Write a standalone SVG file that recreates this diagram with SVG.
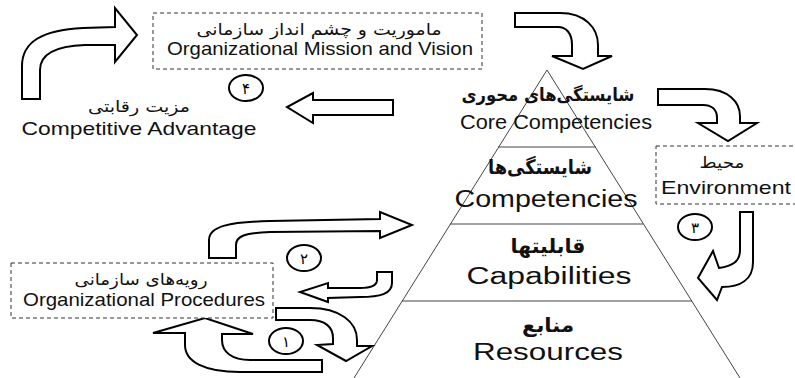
<svg xmlns="http://www.w3.org/2000/svg" width="795" height="378" viewBox="0 0 795 378">
<style>
.bg{fill:#fff}
.box{fill:#fff;stroke:#333;stroke-width:1;stroke-dasharray:4 3}
.arr{fill:#fff;stroke:#000;stroke-width:2;stroke-linejoin:miter}
.pyr{fill:none;stroke:#444;stroke-width:1}
.en{font-family:"Liberation Sans",Arial,sans-serif;fill:#111;text-anchor:middle}
.fa{font-family:"DejaVu Sans","Noto Sans",sans-serif;fill:#111;text-anchor:middle}
.fab{font-family:"DejaVu Sans","Noto Sans",sans-serif;fill:#111;text-anchor:middle;font-weight:bold}
.num{fill:#fff;stroke:#000;stroke-width:2}
.digit{font-family:"DejaVu Sans",sans-serif;font-size:15px;fill:#000;text-anchor:middle}
</style>
<rect class="bg" x="0" y="0" width="795" height="378"/>

<g id="pyramid">
<path class="pyr" d="M547,70 L354,378 M547,70 L740,378 M498,147 L596,147 M450,224 L643,224 M402,301 L692,301"/>
</g>

<g id="connectors">
<path class="arr" d="M22,99 L22,66 C22,42 42,30 83,28 L115,27 L115,8 L137,35 L115,62 L115,45 L85,45 C55,46 40,54 40,70 L40,99 Z"/>
<path class="arr" d="M393,100 L313,100 L313,93 L287,107 L313,123 L313,115 L393,115 Z"/>
<path class="arr" d="M515,13 L560,13 C585,13 598,28 598,45 L598,56 L612,56 L583,69 L552,56 L572,56 L572,45 C572,33 566,27 558,27 L515,27 Z"/>
<path class="arr" d="M658,89 L705,89 C728,89 740,102 740,116 L740,123 L757,123 L728,141 L698,123 L717,123 L717,118 C717,109 711,105 703,105 L658,105 Z"/>
<path class="arr" d="M740,212 L753,212 L753,262 C753,280 740,287 722,287 L717,300 L698,278 L713,251 L719,268 C732,266 740,262 740,250 Z"/>
<path class="arr" d="M209,258 L209,240 C209,226 230,222 270,221 L380,219 L380,212 L412,225 L380,238 L380,231 L270,232 C245,233 236,236 236,245 L236,258 Z"/>
<path class="arr" d="M377,272 L392,272 L392,283 C392,294 380,297 360,297 L328,298 L328,302 L300,292 L328,283 L328,288 L360,288 C372,288 377,285 377,280 Z"/>
<path class="arr" d="M276,308 L310,308 C340,308 357,322 357,340 L357,346 L372,346 L346,361 L317,345 L333,344 L333,338 C333,327 325,320 310,320 L276,320 Z"/>
<path class="arr" d="M322,360 L250,360 C232,360 222,352 222,340 L222,334 L253,334 L205,318 L153,333 L185,333 L185,345 C185,362 205,372 240,372 L322,372 Z"/>
</g>

<g id="mission">
<rect class="box" x="153" y="13" width="329" height="56"/>
<text class="fa" x="319" y="35" font-size="16" textLength="245" lengthAdjust="spacingAndGlyphs">ماموریت و چشم انداز سازمانی</text>
<text class="en" x="320" y="55" font-size="19" textLength="306" lengthAdjust="spacingAndGlyphs">Organizational Mission and Vision</text>
</g>

<g id="competitive-advantage">
<text class="fa" x="139" y="112" font-size="16" textLength="102" lengthAdjust="spacingAndGlyphs">مزیت رقابتی</text>
<text class="en" x="139" y="135" font-size="19" textLength="235" lengthAdjust="spacingAndGlyphs">Competitive Advantage</text>
</g>

<g id="core-competencies">
<text class="fab" x="548" y="101" font-size="18" textLength="173" lengthAdjust="spacingAndGlyphs">شایستگی‌های محوری</text>
<text class="en" x="556" y="129" font-size="20" textLength="192" lengthAdjust="spacingAndGlyphs">Core Competencies</text>
</g>

<g id="competencies">
<text class="fab" x="540" y="174" font-size="20" textLength="104" lengthAdjust="spacingAndGlyphs">شایستگی‌ها</text>
<text class="en" x="546" y="207" font-size="23" textLength="183" lengthAdjust="spacingAndGlyphs">Competencies</text>
</g>

<g id="capabilities">
<text class="fab" x="548" y="253" font-size="20" textLength="75" lengthAdjust="spacingAndGlyphs">قابلیتها</text>
<text class="en" x="549" y="284" font-size="23" textLength="165" lengthAdjust="spacingAndGlyphs">Capabilities</text>
</g>

<g id="resources">
<text class="fab" x="548" y="332" font-size="20" textLength="52" lengthAdjust="spacingAndGlyphs">منابع</text>
<text class="en" x="548" y="360" font-size="23" textLength="150" lengthAdjust="spacingAndGlyphs">Resources</text>
</g>

<g id="environment">
<rect class="box" x="656" y="146" width="150" height="58"/>
<text class="fa" x="722" y="168" font-size="16" textLength="45" lengthAdjust="spacingAndGlyphs">محیط</text>
<text class="en" x="726" y="194" font-size="19" textLength="130" lengthAdjust="spacingAndGlyphs">Environment</text>
</g>

<g id="procedures">
<rect class="box" x="11" y="263" width="262" height="55"/>
<text class="fa" x="141" y="285" font-size="16" textLength="133" lengthAdjust="spacingAndGlyphs">رویه‌های سازمانی</text>
<text class="en" x="144" y="306" font-size="19" textLength="242" lengthAdjust="spacingAndGlyphs">Organizational Procedures</text>
</g>

<g id="step1"><ellipse class="num" cx="286" cy="341" rx="17" ry="13"/><text class="digit" x="286" y="347">۱</text></g>
<g id="step2"><ellipse class="num" cx="304" cy="258" rx="17" ry="13"/><text class="digit" x="304" y="264">۲</text></g>
<g id="step3"><ellipse class="num" cx="695" cy="227" rx="17" ry="13"/><text class="digit" x="695" y="233">۳</text></g>
<g id="step4"><ellipse class="num" cx="246" cy="88" rx="17" ry="13"/><text class="digit" x="246" y="94">۴</text></g>
</svg>
